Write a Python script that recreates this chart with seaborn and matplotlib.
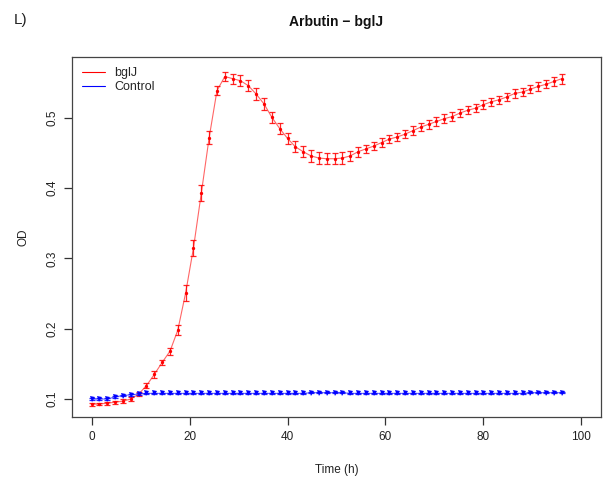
import numpy as np
import pandas as pd
import matplotlib
matplotlib.use("Agg")
import matplotlib.pyplot as plt
import seaborn as sns
from matplotlib.lines import Line2D

time_h = [0.0, 1.6, 3.2, 4.8, 6.4, 8.0, 9.6, 11.2, 12.8, 14.4, 16.0, 17.6, 19.2, 20.8,
          22.4, 24.0, 25.6, 27.2, 28.8, 30.4, 32.0, 33.6, 35.2, 36.8, 38.4, 40.0, 41.6,
          43.2, 44.8, 46.4, 48.0, 49.6, 51.2, 52.8, 54.4, 56.0, 57.6, 59.2, 60.8, 62.4,
          64.0, 65.6, 67.2, 68.8, 70.4, 72.0, 73.6, 75.2, 76.8, 78.4, 80.0, 81.6, 83.2,
          84.8, 86.4, 88.0, 89.6, 91.2, 92.8, 94.4, 96.0]

bglj_od = [0.0925, 0.093, 0.094, 0.0955, 0.097, 0.100, 0.107, 0.119, 0.135, 0.152,
           0.168, 0.198, 0.251, 0.315, 0.393, 0.472, 0.539, 0.559, 0.556, 0.553,
           0.546, 0.534, 0.520, 0.501, 0.485, 0.471, 0.459, 0.452, 0.446, 0.443,
           0.442, 0.442, 0.443, 0.446, 0.452, 0.456, 0.460, 0.465, 0.470, 0.473,
           0.477, 0.482, 0.487, 0.491, 0.495, 0.499, 0.502, 0.507, 0.511, 0.514,
           0.519, 0.523, 0.526, 0.530, 0.535, 0.537, 0.541, 0.545, 0.548, 0.552, 0.556]

bglj_err = [0.002, 0.002, 0.002, 0.002, 0.003, 0.003, 0.003, 0.004, 0.005, 0.004,
            0.005, 0.007, 0.011, 0.012, 0.011, 0.009, 0.006, 0.007, 0.007, 0.008,
            0.008, 0.008, 0.008, 0.008, 0.008, 0.008, 0.008, 0.008, 0.008, 0.008,
            0.008, 0.008, 0.008, 0.007, 0.007, 0.006, 0.006, 0.006, 0.006, 0.006,
            0.006, 0.006, 0.006, 0.006, 0.006, 0.006, 0.006, 0.006, 0.006, 0.006,
            0.006, 0.006, 0.006, 0.006, 0.006, 0.006, 0.006, 0.006, 0.006, 0.007, 0.007]

control_od = [0.100, 0.100, 0.100, 0.103, 0.105, 0.106, 0.107, 0.108, 0.108, 0.108,
              0.108, 0.108, 0.108, 0.108, 0.108, 0.108, 0.108, 0.108, 0.108, 0.108,
              0.108, 0.108, 0.108, 0.108, 0.108, 0.108, 0.108, 0.108, 0.109, 0.109,
              0.109, 0.109, 0.109, 0.108, 0.108, 0.108, 0.108, 0.108, 0.108, 0.108,
              0.108, 0.108, 0.108, 0.108, 0.108, 0.108, 0.108, 0.108, 0.108, 0.108,
              0.108, 0.108, 0.108, 0.108, 0.108, 0.108, 0.109, 0.109, 0.109, 0.109, 0.109]

control_err = [0.001] * 61

series_names = ["bglJ", "Control"]
series_colors = {"bglJ": "#FF0000", "Control": "#0000FF"}
x_ticks = [0, 20, 40, 60, 80, 100]
y_ticks = [0.1, 0.2, 0.3, 0.4, 0.5]
y_tick_labels = ["0.1", "0.2", "0.3", "0.4", "0.5"]

df = pd.DataFrame({
    "time": time_h * 2,
    "od": bglj_od + control_od,
    "err": bglj_err + control_err,
    "series": ["bglJ"] * len(time_h) + ["Control"] * len(time_h),
})

sns.set_style("ticks")
plt.rcParams["font.family"] = ["Liberation Sans", "DejaVu Sans"]

fig = plt.figure(figsize=(6.05, 4.87), dpi=100)
ax = fig.add_axes([72 / 605, 1 - 417 / 487, (601 - 72) / 605, (417 - 57) / 487])

sns.lineplot(data=df, x="time", y="od", hue="series", palette=series_colors,
             hue_order=series_names, ax=ax, linewidth=0.8, alpha=0.6, legend=False,
             errorbar=None)

markers = {"bglJ": "o", "Control": "v"}
msizes = {"bglJ": 2.4, "Control": 3.6}
for name in series_names:
    sub = df[df["series"] == name]
    ax.errorbar(sub["time"], sub["od"], yerr=sub["err"], fmt="none",
                ecolor=series_colors[name], elinewidth=0.9, capsize=2.3,
                capthick=0.9, alpha=0.85)
    ax.plot(sub["time"], sub["od"], linestyle="none", marker=markers[name],
            markersize=msizes[name], color=series_colors[name], markeredgewidth=0)

ax.set_xlim(-4, 104)
ax.set_ylim(0.0744, 0.5868)
ax.set_xticks(x_ticks)
ax.set_xticklabels([str(t) for t in x_ticks])
ax.set_yticks(y_ticks)
ax.set_yticklabels(y_tick_labels, rotation=90, va="center")
ax.tick_params(axis="both", which="major", bottom=True, left=True, direction="out",
               length=6, width=0.9, color="#333333", labelsize=8.5,
               labelcolor="#222222", pad=4)
for s in ax.spines.values():
    s.set_linewidth(0.9)
    s.set_color("#444444")
    s.set_visible(True)

ax.set_xlabel("Time (h)", fontsize=8.5, labelpad=15, color="#222222")
ax.set_ylabel("OD", fontsize=8.5, labelpad=12, color="#222222")

fig.text(336 / 605, 1 - 22 / 487, "Arbutin \u2212 bglJ", ha="center", va="center",
         fontsize=10, fontweight="bold", color="#111111")
fig.text(14 / 605, 1 - 20 / 487, "L)", ha="left", va="center", fontsize=11,
         color="#222222")

handles = [Line2D([0], [0], color=series_colors[n], lw=0.8) for n in series_names]
ax.legend(handles, series_names, loc="upper left", frameon=False, fontsize=9,
          handlelength=1.8, handletextpad=0.8, borderaxespad=0.4, labelspacing=0.15,
          bbox_to_anchor=(0.0, 1.0))

fig.savefig("out.png", dpi=100)
